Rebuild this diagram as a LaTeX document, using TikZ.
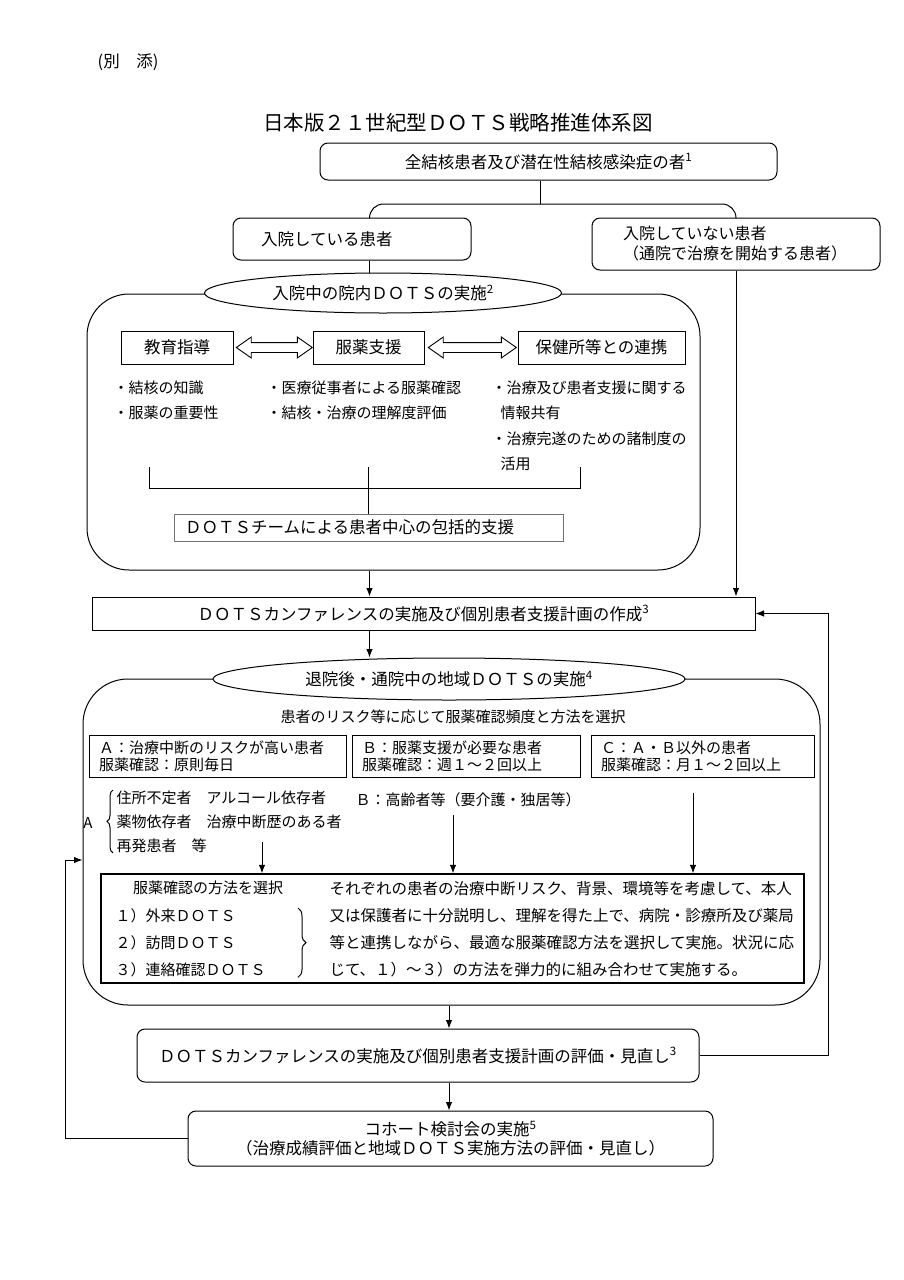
\documentclass[tikz,border=0pt]{standalone}
\usepackage{fontspec}
\setmainfont{Noto Sans CJK JP}
\usepackage{tikz}
\usetikzlibrary{arrows.meta,positioning,shapes.geometric,shapes.arrows,decorations.pathreplacing}

\newcommand{\fsz}[2]{\fontsize{#1}{#2}\selectfont}

\begin{document}
\begin{tikzpicture}[x=1pt,y=-1pt,>={Latex[length=8.5pt,width=6.5pt]},line width=1pt,
  every node/.style={font=\fsz{16.5}{20}},
  rbox/.style={draw,rounded corners=8pt,inner sep=0pt},
  sbox/.style={draw,inner sep=0pt},
  big frame/.style={draw,rounded corners=42pt,inner sep=0pt},
  oval/.style={ellipse,draw,fill=white,inner sep=0pt},
  hollow/.style={double arrow,draw,line width=0.9pt,inner xsep=0pt,inner ysep=4.5pt,
    double arrow head extend=5.5pt,double arrow tip angle=70},
  lst/.style={anchor=north west,align=left,inner sep=0pt,font=\fsz{15}{25.5}},
  abc/.style={sbox,minimum height=42pt,align=left,inner xsep=10pt,font=\fsz{15}{17}},
  curly/.style={decorate,decoration={brace,amplitude=#1}}]

  \path[use as bounding box,fill=white] (0,0) rectangle (904,1280);

  \node (bessou) at (128,62) {(別　添)};
  \node[font=\fsz{20.5}{24}] (title) at (458,123) {日本版２１世紀型ＤＯＴＳ戦略推進体系図};

  \node[rbox,minimum width=457pt,minimum height=37pt] (all) at (548.5,161.5) {全結核患者及び潜在性結核感染症の者\textsuperscript{1}};
  \node[rbox,minimum width=238pt,minimum height=42pt,text width=182pt,inner xsep=28pt,align=left] (inpat) at (352,239) {入院している患者};
  \node[rbox,minimum width=288pt,minimum height=52pt,text width=226pt,inner xsep=31pt,align=left,font=\fsz{16}{20}] (outpat) at (736,244) {入院していない患者\\（通院で治療を開始する患者）};

  \node[big frame,minimum width=613pt,minimum height=276pt] (inframe) at (393.5,432) {};
  \node[oval,minimum width=357pt,minimum height=40pt] (ell1) at (383,293) {入院中の院内ＤＯＴＳの実施\textsuperscript{2}};

  \node[sbox,minimum width=112pt,minimum height=33pt] (kyoiku) at (177,347.5) {教育指導};
  \node[sbox,minimum width=111pt,minimum height=33pt] (fukuyaku) at (368.5,347.5) {服薬支援};
  \node[sbox,minimum width=167pt,minimum height=33pt] (renkei) at (601.5,347.5) {保健所等との連携};
  \node[hollow,minimum height=76pt,right=2pt of kyoiku] (ar1) {};
  \node[hollow,minimum height=88pt,right=3pt of fukuyaku] (ar2) {};

  \node[lst] (kyoikuList) at (113,380) {・結核の知識\\・服薬の重要性};
  \node[lst] (fukuyakuList) at (266,380) {・医療従事者による服薬確認\\・結核・治療の理解度評価};
  \node[lst] (renkeiList) at (491,380) {・治療及び患者支援に関する\\\hspace{9pt}情報共有\\・治療完遂のための諸制度の\\\hspace{9pt}活用};

  \node[sbox,draw=black!55,minimum width=389pt,minimum height=27pt,text width=367pt,inner xsep=11pt,align=left] (team) at (368.5,527.5) {ＤＯＴＳチームによる患者中心の包括的支援};

  \node[sbox,minimum width=663pt,minimum height=33pt] (conf) at (423.5,613.5) {ＤＯＴＳカンファレンスの実施及び個別患者支援計画の作成\textsuperscript{3}};

  \node[big frame,rounded corners=45pt,minimum width=737pt,minimum height=326pt] (outframe) at (451.5,842) {};
  \node[oval,minimum width=472pt,minimum height=42pt] (ell2) at (449,679) {退院後・通院中の地域ＤＯＴＳの実施\textsuperscript{4}};
  \node[font=\fsz{15}{18}] (select) at (453,717) {患者のリスク等に応じて服薬確認頻度と方法を選択};

  \node[abc,minimum width=257pt,text width=237pt] (riskA) at (217.5,756) {Ａ：治療中断のリスクが高い患者\\服薬確認：原則毎日};
  \node[abc,minimum width=228pt,text width=208pt] (riskB) at (466,756) {Ｂ：服薬支援が必要な患者\\服薬確認：週１～２回以上};
  \node[abc,minimum width=223pt,text width=203pt] (riskC) at (702.5,756) {Ｃ：Ａ・Ｂ以外の患者\\服薬確認：月１～２回以上};

  \node[font=\fsz{15}{18},inner sep=0pt] (aLabel) at (88,823) {A};
  \node[lst,font=\fsz{15}{24}] (aList) at (116,790) {住所不定者　アルコール依存者\\薬物依存者　治療中断歴のある者\\再発患者　等};
  \node[anchor=west,font=\fsz{15}{18},inner sep=0pt] (bNote) at (355,800) {Ｂ：高齢者等（要介護・独居等）};

  \node[sbox,line width=1.3pt,minimum width=703pt,minimum height=109pt] (method) at (452.5,928.5) {};
  \node[font=\fsz{15}{18}] (mTitle) at (208,888) {服薬確認の方法を選択};
  \node[lst,font=\fsz{15}{27}] (mList) at (115,908) {１）外来ＤＯＴＳ\\２）訪問ＤＯＴＳ\\３）連絡確認ＤＯＴＳ};
  \node[lst,font=\fsz{15.5}{27}] (mText) at (329,881) {それぞれの患者の治療中断リスク、背景、環境等を考慮して、本人\\又は保護者に十分説明し、理解を得た上で、病院・診療所及び薬局\\等と連携しながら、最適な服薬確認方法を選択して実施。状況に応\\じて、１）～３）の方法を弾力的に組み合わせて実施する。};

  \node[rbox,minimum width=562pt,minimum height=53pt] (review) at (418,1055.5) {ＤＯＴＳカンファレンスの実施及び個別患者支援計画の評価・見直し\textsuperscript{3}};
  \node[rbox,minimum width=525pt,minimum height=55pt,align=center,font=\fsz{16.5}{19}] (cohort) at (450.5,1138.5) {コホート検討会の実施\textsuperscript{5}\\（治療成績評価と地域ＤＯＴＳ実施方法の評価・見直し）};

  \coordinate (split) at (540,204);
  \coordinate (lv) at (369.5,0);
  \coordinate (mv) at (449,0);
  \coordinate (brL) at (149,467);
  \coordinate (brR) at (580,467);
  \coordinate (aStart) at (262,842);
  \coordinate (bStart) at (453,815);
  \coordinate (cStart) at (693,793);
  \coordinate (fbR) at (828,613.5);
  \coordinate (fbL) at (65,860);

  \draw (all.south -| split) -- (split);
  \draw[rounded corners=14pt] (inpat.north -| lv) |- (split) -| (outpat.north);
  \draw (inpat.south -| lv) -- (ell1.north -| lv);
  \draw (brL) -- ++(0,21) -| (brR);
  \draw (brL -| team.north) -- (team.north);
  \draw[curly=6pt] ([xshift=-3pt]aList.south west) -- ([xshift=-3pt]aList.north west);
  \draw[curly=8pt] ([xshift=32pt]mList.north east) -- ([xshift=32pt]mList.south east);

  \path[->]
    (inframe.south -| lv) edge (conf.north -| lv)
    (outpat.south) edge (outpat.south |- conf.north)
    (conf.south -| lv) edge (ell2.north -| lv)
    (aStart) edge (aStart |- method.north)
    (bStart) edge (bStart |- method.north)
    (cStart) edge (cStart |- method.north)
    (outframe.south -| mv) edge (review.north -| mv)
    (review.south -| mv) edge (cohort.north -| mv);

  \draw[->] (review.east) -| (fbR) -- (conf.east);
  \draw[->] (cohort.west) -| (fbL) -- (fbL -| outframe.west);
\end{tikzpicture}
\end{document}
